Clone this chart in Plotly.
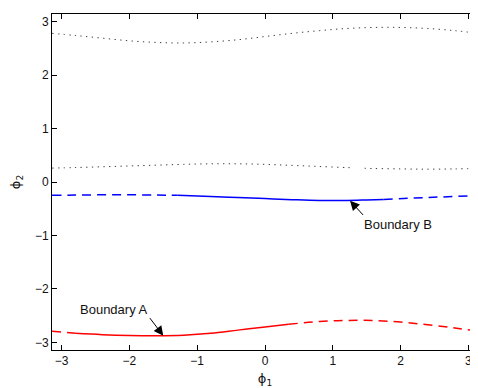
import numpy as np
import plotly.graph_objects as go

# ---- data ----
red_x = [-3.14, -2.8, -2.4, -2.0, -1.6, -1.2, -0.8, -0.4, 0.0, 0.35, 0.8, 1.2, 1.6, 2.0, 2.4, 2.8, 3.14]
red_y = [-2.79, -2.83, -2.855, -2.87, -2.875, -2.865, -2.83, -2.77, -2.71, -2.66, -2.61, -2.59, -2.59, -2.62, -2.67, -2.73, -2.79]
red_solid = (-2.8, 0.35)

blue_x = [-3.14, -2.8, -2.4, -2.0, -1.6, -1.29, -0.8, -0.4, 0.0, 0.4, 0.8, 1.2, 1.5, 1.75, 2.2, 2.6, 3.14]
blue_y = [-0.25, -0.245, -0.24, -0.24, -0.245, -0.25, -0.27, -0.29, -0.31, -0.33, -0.345, -0.345, -0.335, -0.325, -0.30, -0.28, -0.255]
blue_solid = (-1.29, 1.75)

top_x = [-3.14, -2.8, -2.4, -2.0, -1.6, -1.2, -0.8, -0.4, 0.0, 0.4, 0.8, 1.2, 1.6, 2.0, 2.4, 2.8, 3.14]
top_y = [2.78, 2.74, 2.69, 2.64, 2.61, 2.60, 2.62, 2.66, 2.72, 2.78, 2.83, 2.87, 2.89, 2.89, 2.87, 2.83, 2.78]

low_x = [-3.14, -2.8, -2.4, -2.0, -1.6, -1.2, -0.8, -0.4, 0.0, 0.4, 0.8, 1.2, 1.25, None, 1.47, 1.5, 2.0, 2.4, 2.8, 3.14]
low_y = [0.26, 0.27, 0.285, 0.30, 0.315, 0.33, 0.34, 0.34, 0.33, 0.31, 0.29, 0.27, 0.268, None, 0.257, 0.255, 0.245, 0.24, 0.245, 0.255]

x_ticks = [-3, -2, -1, 0, 1, 2, 3]
y_ticks = [-3, -2, -1, 0, 1, 2, 3]

label_a = "Boundary A"
label_b = "Boundary B"
# text centre, arrow tail, arrow tip (data coords)
ann_a = dict(text=(-2.22, -2.38), tail=(-1.715, -2.517), tip=(-1.5, -2.875))
ann_b = dict(text=(1.965, -0.80), tail=(1.467, -0.644), tip=(1.254, -0.35))

FONT = "Liberation Sans, Arial, Helvetica, sans-serif"
TFONT = "DejaVu Sans, Liberation Sans, sans-serif"

fig = go.Figure()

def segments(xs, ys, lo, hi):
    xs = np.array(xs, dtype=float)
    ys = np.array(ys, dtype=float)
    left = xs <= lo
    mid = (xs >= lo) & (xs <= hi)
    right = xs >= hi
    return (xs[left], ys[left]), (xs[mid], ys[mid]), (xs[right], ys[right])

dotstyle = dict(color="#3a3a3a", width=1, dash="1.3px,4.4px")
fig.add_trace(go.Scatter(x=top_x, y=top_y, mode="lines", line=dotstyle,
                         line_shape="spline", hoverinfo="skip"))
fig.add_trace(go.Scatter(x=low_x, y=low_y, mode="lines", line=dotstyle,
                         line_shape="spline", connectgaps=False, hoverinfo="skip"))

for xs, ys, (lo, hi), col in [(blue_x, blue_y, blue_solid, "#0000ff"),
                              (red_x, red_y, red_solid, "#ff0000")]:
    l, m, r = segments(xs, ys, lo, hi)
    for seg, dash in [(l, "9px,6px"), (m, "solid"), (r, "9px,6px")]:
        fig.add_trace(go.Scatter(x=seg[0], y=seg[1], mode="lines",
                                 line=dict(color=col, width=1.5, dash=dash),
                                 line_shape="spline", hoverinfo="skip"))

for lab, a in [(label_a, ann_a), (label_b, ann_b)]:
    fig.add_annotation(x=a["text"][0], y=a["text"][1], text=lab, showarrow=False,
                       xref="x", yref="y", font=dict(family=FONT, size=13, color="#111"))
    fig.add_annotation(x=a["tip"][0], y=a["tip"][1], ax=a["tail"][0], ay=a["tail"][1],
                       xref="x", yref="y", axref="x", ayref="y", text="",
                       showarrow=True, arrowhead=2, arrowsize=1.9, arrowwidth=1,
                       arrowcolor="#000")

axis_common = dict(showgrid=False, zeroline=False, showline=True, linecolor="#000",
                   linewidth=1, mirror="ticks", ticks="inside", ticklen=5,
                   tickcolor="#000", automargin=False,
                   tickfont=dict(family=FONT, size=12, color="#111"))

# page body adds an 8px offset, so the figure is sized to fit the 478x388 window
fig.update_layout(
    width=470, height=380,
    margin=dict(l=44, r=0, t=6, b=38),
    plot_bgcolor="white", paper_bgcolor="white",
    showlegend=False,
    xaxis=dict(range=[-np.pi, np.pi], tickvals=x_ticks,
               title=dict(text="ϕ<sub>1</sub>", font=dict(family=TFONT, size=13, color="#111"),
                          standoff=7),
               **axis_common),
    yaxis=dict(range=[-np.pi, np.pi], tickvals=y_ticks,
               title=dict(text="ϕ<sub>2</sub>", font=dict(family=TFONT, size=13, color="#111"),
                          standoff=20),
               **axis_common),
)

fig.write_html("out.html")
